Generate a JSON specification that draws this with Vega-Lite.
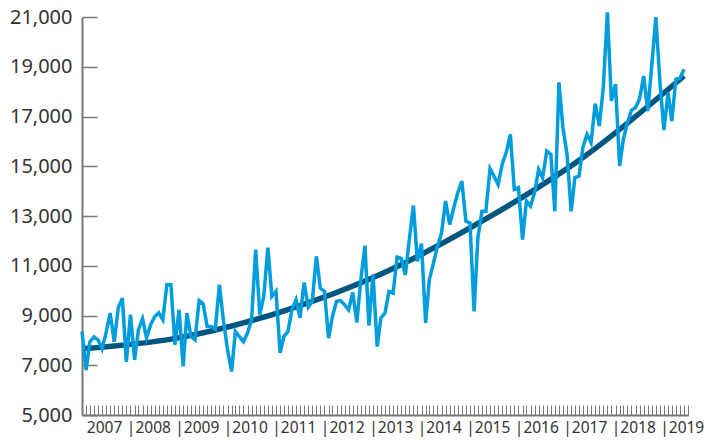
{
  "$schema": "https://vega.github.io/schema/vega-lite/v6.json",
  "width": 606,
  "height": 398,
  "autosize": {"type": "none"},
  "padding": {"left": 82, "top": 17, "right": 16, "bottom": 25},
  "background": "white",
  "config": {"view": {"stroke": null}, "font": "Noto Sans", "axis": {"grid": false}},
  "datasets": {
    "trend": [
      {"date":"2007-01-01","v":7660},{"date":"2008-12-16","v":8090},{"date":"2011-02-15","v":9160},
      {"date":"2013-03-16","v":10700},{"date":"2015-04-01","v":12790},{"date":"2017-05-01","v":15350},
      {"date":"2019-06-01","v":18630}
    ],
    "series": [
      {"date":"2007-01-01","v":8350},{"date":"2007-02-01","v":6810},{"date":"2007-03-01","v":7940},{"date":"2007-04-01","v":8140},{"date":"2007-05-01","v":8020},{"date":"2007-06-01","v":7660},{"date":"2007-07-01","v":8300},{"date":"2007-08-01","v":9100},{"date":"2007-09-01","v":7940},{"date":"2007-10-01","v":9310},{"date":"2007-11-01","v":9700},{"date":"2007-12-01","v":7140},
      {"date":"2008-01-01","v":9030},{"date":"2008-02-01","v":7220},{"date":"2008-03-01","v":8430},{"date":"2008-04-01","v":8870},{"date":"2008-05-01","v":8100},{"date":"2008-06-01","v":8630},{"date":"2008-07-01","v":8950},{"date":"2008-08-01","v":9110},{"date":"2008-09-01","v":8830},{"date":"2008-10-01","v":10240},{"date":"2008-11-01","v":10240},{"date":"2008-12-01","v":7820},
      {"date":"2009-01-01","v":9230},{"date":"2009-02-01","v":6950},{"date":"2009-03-01","v":9100},{"date":"2009-04-01","v":8150},{"date":"2009-05-01","v":8020},{"date":"2009-06-01","v":9600},{"date":"2009-07-01","v":9470},{"date":"2009-08-01","v":8560},{"date":"2009-09-01","v":8560},{"date":"2009-10-01","v":8460},{"date":"2009-11-01","v":10240},{"date":"2009-12-01","v":8800},
      {"date":"2010-01-01","v":7620},{"date":"2010-02-01","v":6750},{"date":"2010-03-01","v":8360},{"date":"2010-04-01","v":8150},{"date":"2010-05-01","v":7950},{"date":"2010-06-01","v":8300},{"date":"2010-07-01","v":8830},{"date":"2010-08-01","v":11650},{"date":"2010-09-01","v":9030},{"date":"2010-10-01","v":9770},{"date":"2010-11-01","v":11730},{"date":"2010-12-01","v":9770},
      {"date":"2011-01-01","v":9970},{"date":"2011-02-01","v":7500},{"date":"2011-03-01","v":8150},{"date":"2011-04-01","v":8360},{"date":"2011-05-01","v":9230},{"date":"2011-06-01","v":9630},{"date":"2011-07-01","v":8900},{"date":"2011-08-01","v":10330},{"date":"2011-09-01","v":9340},{"date":"2011-10-01","v":9570},{"date":"2011-11-01","v":11380},{"date":"2011-12-01","v":10100},
      {"date":"2012-01-01","v":9970},{"date":"2012-02-01","v":8090},{"date":"2012-03-01","v":8960},{"date":"2012-04-01","v":9570},{"date":"2012-05-01","v":9600},{"date":"2012-06-01","v":9430},{"date":"2012-07-01","v":9230},{"date":"2012-08-01","v":9930},{"date":"2012-09-01","v":8720},{"date":"2012-10-01","v":10440},{"date":"2012-11-01","v":11810},{"date":"2012-12-01","v":8590},
      {"date":"2013-01-01","v":10640},{"date":"2013-02-01","v":7750},{"date":"2013-03-01","v":8900},{"date":"2013-04-01","v":9100},{"date":"2013-05-01","v":9970},{"date":"2013-06-01","v":9900},{"date":"2013-07-01","v":11350},{"date":"2013-08-01","v":11300},{"date":"2013-09-01","v":10640},{"date":"2013-10-01","v":12050},{"date":"2013-11-01","v":13420},{"date":"2013-12-01","v":11180},
      {"date":"2014-01-01","v":11890},{"date":"2014-02-01","v":8700},{"date":"2014-03-01","v":10440},{"date":"2014-04-01","v":11110},{"date":"2014-05-01","v":11780},{"date":"2014-06-01","v":12320},{"date":"2014-07-01","v":13600},{"date":"2014-08-01","v":12660},{"date":"2014-09-01","v":13330},{"date":"2014-10-01","v":13930},{"date":"2014-11-01","v":14400},{"date":"2014-12-01","v":12790},
      {"date":"2015-01-01","v":12720},{"date":"2015-02-01","v":9160},{"date":"2015-03-01","v":12100},{"date":"2015-04-01","v":13190},{"date":"2015-05-01","v":13190},{"date":"2015-06-01","v":14900},{"date":"2015-07-01","v":14600},{"date":"2015-08-01","v":14270},{"date":"2015-09-01","v":15080},{"date":"2015-10-01","v":15550},{"date":"2015-11-01","v":16280},{"date":"2015-12-01","v":14070},
      {"date":"2016-01-01","v":14140},{"date":"2016-02-01","v":12050},{"date":"2016-03-01","v":13600},{"date":"2016-04-01","v":13400},{"date":"2016-05-01","v":13930},{"date":"2016-06-01","v":14870},{"date":"2016-07-01","v":14540},{"date":"2016-08-01","v":15610},{"date":"2016-09-01","v":15480},{"date":"2016-10-01","v":13190},{"date":"2016-11-01","v":18370},{"date":"2016-12-01","v":16550},
      {"date":"2017-01-01","v":15480},{"date":"2017-02-01","v":13190},{"date":"2017-03-01","v":14540},{"date":"2017-04-01","v":14600},{"date":"2017-05-01","v":15780},{"date":"2017-06-01","v":16280},{"date":"2017-07-01","v":15950},{"date":"2017-08-01","v":17520},{"date":"2017-09-01","v":16620},{"date":"2017-10-01","v":18170},{"date":"2017-11-01","v":21190},{"date":"2017-12-01","v":17630},
      {"date":"2018-01-01","v":18300},{"date":"2018-02-01","v":15010},{"date":"2018-03-01","v":16080},{"date":"2018-04-01","v":16760},{"date":"2018-05-01","v":17250},{"date":"2018-06-01","v":17360},{"date":"2018-07-01","v":17700},{"date":"2018-08-01","v":18630},{"date":"2018-09-01","v":17220},{"date":"2018-10-01","v":19040},{"date":"2018-11-01","v":20990},{"date":"2018-12-01","v":18430},
      {"date":"2019-01-01","v":16450},{"date":"2019-02-01","v":17960},{"date":"2019-03-01","v":16820},{"date":"2019-04-01","v":18500},{"date":"2019-05-01","v":18540},{"date":"2019-06-01","v":18900}
    ]
  },
  "layer": [
    {
      "data": {"name": "trend", "format": {"parse": {"date": "date"}}},
      "mark": {"type": "line", "color": "#00567f", "strokeWidth": 5.5, "interpolate": "monotone"},
      "encoding": {
        "x": {
          "field": "date", "type": "temporal",
          "axis": {
            "orient": "bottom", "title": null, "ticks": false, "domain": false,
            "values": [
              {"year":2007,"month":6,"date":16,"utc":true},{"year":2008,"month":1,"date":1,"utc":true},
              {"year":2008,"month":6,"date":16,"utc":true},{"year":2009,"month":1,"date":1,"utc":true},
              {"year":2009,"month":6,"date":16,"utc":true},{"year":2010,"month":1,"date":1,"utc":true},
              {"year":2010,"month":6,"date":16,"utc":true},{"year":2011,"month":1,"date":1,"utc":true},
              {"year":2011,"month":6,"date":16,"utc":true},{"year":2012,"month":1,"date":1,"utc":true},
              {"year":2012,"month":6,"date":16,"utc":true},{"year":2013,"month":1,"date":1,"utc":true},
              {"year":2013,"month":6,"date":16,"utc":true},{"year":2014,"month":1,"date":1,"utc":true},
              {"year":2014,"month":6,"date":16,"utc":true},{"year":2015,"month":1,"date":1,"utc":true},
              {"year":2015,"month":6,"date":16,"utc":true},{"year":2016,"month":1,"date":1,"utc":true},
              {"year":2016,"month":6,"date":16,"utc":true},{"year":2017,"month":1,"date":1,"utc":true},
              {"year":2017,"month":6,"date":16,"utc":true},{"year":2018,"month":1,"date":1,"utc":true},
              {"year":2018,"month":6,"date":16,"utc":true},{"year":2019,"month":1,"date":1,"utc":true},
              {"year":2019,"month":6,"date":16,"utc":true}
            ],
            "labelExpr": "utcmonth(datum.value) == 0 ? '|' : utcFormat(datum.value, '%Y')",
            "labelOverlap": false, "labelBound": false, "labelFlush": false,
            "labelFontSize": 15.5, "labelColor": "#333333", "labelPadding": 5
          }
        },
        "y": {"field": "v", "type": "quantitative"}
      }
    },
    {
      "data": {"name": "series", "format": {"parse": {"date": "date"}}},
      "mark": {"type": "line", "color": "#009ddc", "strokeWidth": 3.5},
      "encoding": {
        "x": {
          "field": "date", "type": "temporal",
          "scale": {"type": "utc", "domain": [{"year":2007,"month":1,"date":1,"utc":true},{"year":2019,"month":7,"date":1,"utc":true}]},
          "axis": {
            "orient": "bottom", "title": null, "labels": false,
            "tickCount": {"interval": "month", "step": 1},
            "tickSize": -10, "tickColor": "#777777", "tickWidth": 1,
            "domainColor": "#777777", "domainWidth": 2
          }
        },
        "y": {
          "field": "v", "type": "quantitative",
          "scale": {"domain": [5000, 21000], "nice": false, "zero": false},
          "axis": {
            "title": null, "values": [5000, 7000, 9000, 11000, 13000, 15000, 17000, 19000, 21000],
            "format": ",.0f", "tickSize": -15, "labelPadding": 25, "tickColor": "#777777", "tickWidth": 1.5,
            "domainColor": "#777777", "domainWidth": 2, "labelFontSize": 20, "labelColor": "#333333"
          }
        }
      }
    }
  ],
  "resolve": {"axis": {"x": "independent"}}
}
